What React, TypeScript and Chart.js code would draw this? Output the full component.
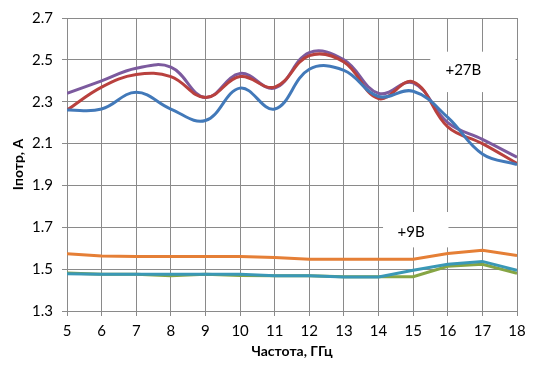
import React, { useEffect, useRef } from "react";
import { Chart, registerables } from "chart.js";

Chart.register(...registerables);

const freq = [5, 6, 7, 8, 9, 10, 11, 12, 13, 14, 15, 16, 17, 18];
const blue27 = [2.26, 2.265, 2.345, 2.265, 2.21, 2.365, 2.265, 2.455, 2.45, 2.325, 2.35, 2.225, 2.05, 2.0];
const red27 = [2.26, 2.37, 2.43, 2.42, 2.32, 2.42, 2.37, 2.52, 2.49, 2.315, 2.395, 2.18, 2.1, 2.005];
const purple27 = [2.34, 2.4, 2.46, 2.465, 2.32, 2.435, 2.365, 2.535, 2.5, 2.34, 2.39, 2.2, 2.12, 2.035];
const orange9 = [1.573, 1.563, 1.56, 1.56, 1.56, 1.56, 1.556, 1.547, 1.547, 1.547, 1.547, 1.575, 1.59, 1.565];
const teal9 = [1.478, 1.476, 1.476, 1.476, 1.476, 1.476, 1.469, 1.469, 1.462, 1.462, 1.495, 1.523, 1.537, 1.495];
const green9 = [1.482, 1.476, 1.476, 1.468, 1.476, 1.47, 1.469, 1.469, 1.464, 1.464, 1.464, 1.514, 1.523, 1.48];

const labels = [
  { text: "+27В", x: 16.45, y: 2.45, box: [15.495, 17.96, 2.539, 2.346] },
  { text: "+9В", x: 14.94, y: 1.675, box: [14.13, 16.02, 1.773, 1.604] },
];

const FONT = "Lato, 'Liberation Sans', sans-serif";

const toPts = (ys: number[]) => ys.map((y, i) => ({ x: freq[i], y }));

export default function App() {
  const ref = useRef<HTMLCanvasElement | null>(null);
  useEffect(() => {
    if (!ref.current) return;
    const annot = {
      id: "annot",
      beforeDatasetsDraw(chart: any) {
        const { ctx, scales } = chart;
        const xs = scales.x, ys = scales.y;
        ctx.save();
        ctx.fillStyle = "#ffffff";
        for (const l of labels) {
          const x1 = xs.getPixelForValue(l.box[0]);
          const x2 = xs.getPixelForValue(l.box[1]);
          const y1 = ys.getPixelForValue(l.box[2]);
          const y2 = ys.getPixelForValue(l.box[3]);
          ctx.fillRect(x1, y1, x2 - x1, y2 - y1);
        }
        ctx.fillStyle = "#000000";
        ctx.font = `15px ${FONT}`;
        ctx.textAlign = "center";
        ctx.textBaseline = "middle";
        for (const l of labels) {
          ctx.fillText(l.text, xs.getPixelForValue(l.x), ys.getPixelForValue(l.y));
        }
        ctx.restore();
      },
    };
    const mk = (data: number[], color: string, tension: number) => ({
      data: toPts(data),
      borderColor: color,
      backgroundColor: color,
      borderWidth: 3,
      pointRadius: 0,
      tension,
      fill: false,
    });
    const chart = new Chart(ref.current, {
      type: "line",
      data: {
        datasets: [
          mk(orange9, "#E57F36", 0),
          mk(teal9, "#3A98B6", 0),
          mk(green9, "#86A544", 0),
          mk(blue27, "#4279B9", 0.4),
          mk(red27, "#B9413E", 0.4),
          mk(purple27, "#7C5A9E", 0.4),
        ],
      },
      options: {
        animation: false,
        responsive: false,
        maintainAspectRatio: false,
        layout: { padding: { left: 0, right: 21, top: 13, bottom: 0 } },
        plugins: { legend: { display: false }, tooltip: { enabled: false } },
        scales: {
          x: {
            type: "linear",
            min: 5,
            max: 18,
            afterFit: (s: any) => { s.height = 59; },
            ticks: { stepSize: 1, color: "#000", font: { family: FONT, size: 15 }, padding: 6, maxRotation: 0 },
            grid: { color: "#8a8a8a", lineWidth: 1, tickLength: 5, drawTicks: true },
            border: { color: "#8a8a8a" },
            title: {
              display: true,
              text: "Частота, ГГц",
              color: "#000",
              font: { family: FONT, size: 14, weight: "bold" },
              padding: { top: 0, bottom: 10 },
            },
          },
          y: {
            min: 1.3,
            max: 2.7,
            afterFit: (s: any) => { s.width = 67; },
            ticks: {
              stepSize: 0.2,
              color: "#000",
              font: { family: FONT, size: 15 },
              padding: 9,
              callback: (v: any) => Number(v).toFixed(1),
            },
            grid: { color: "#8a8a8a", lineWidth: 1, tickLength: 5 },
            border: { color: "#8a8a8a" },
            title: {
              display: true,
              text: "Iпотр, А",
              color: "#000",
              font: { family: FONT, size: 14, weight: "bold" },
              padding: { top: 10, bottom: 0 },
            },
          },
        },
      },
      plugins: [annot],
    } as any);
    return () => chart.destroy();
  }, []);
  return (
    <div style={{ position: "absolute", left: 0, top: 0, width: 538, height: 370, background: "#fff" }}>
      <canvas ref={ref} width={538} height={370} style={{ width: 538, height: 370 }} />
    </div>
  );
}
